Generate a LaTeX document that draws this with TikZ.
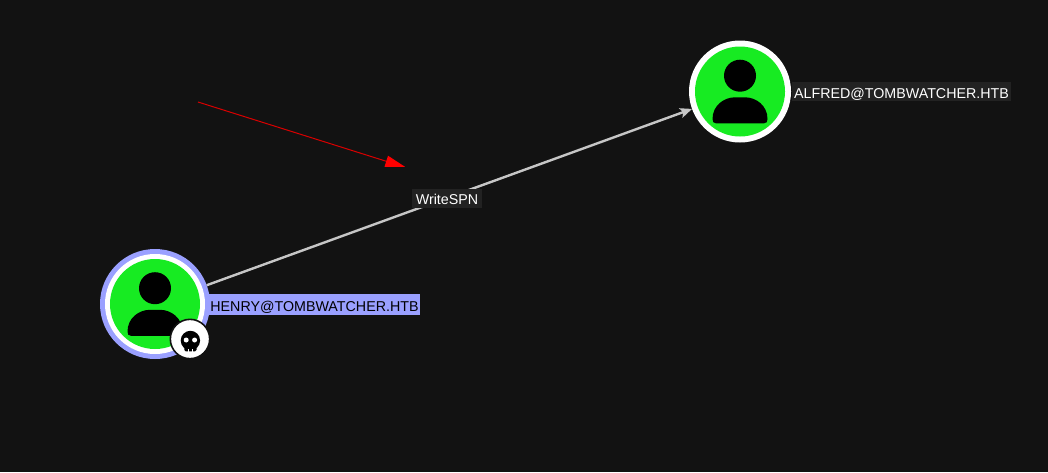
\documentclass[tikz,border=0pt]{standalone}
\usepackage{fontspec}
\setmainfont{Liberation Sans}
\usetikzlibrary{arrows.meta}
\definecolor{bgc}{HTML}{121212}
\definecolor{greenc}{HTML}{17EB22}
\definecolor{peri}{HTML}{9AA0FF}
\definecolor{edgec}{HTML}{C6C6C6}
\definecolor{lblbg}{HTML}{222222}
\tikzset{
  x=0.75pt,y=-0.75pt,
  usernode/.style={circle,inner sep=0pt,outer sep=0pt,minimum size=76.5pt,fill=white},
  lbl/.style={inner sep=0pt,outer sep=0pt,font=\fontsize{10.7pt}{12pt}\selectfont,text=white,fill=lblbg,anchor=center,text depth=0pt},
  edgeline/.style={draw=edgec,line width=1.8pt},
}
\newcommand{\personicon}[2]{%
  \fill[greenc] (#1,#2) circle[radius=45];
  \fill[black] (#1,#2-15.8) circle[radius=16];
  \fill[black]
    ({#1-27.5},{#2+27.5}) .. controls ({#1-27.5},{#2+14}) and ({#1-16},{#2+5.8}) .. ({#1-5},{#2+5.8})
    -- ({#1+5},{#2+5.8}) .. controls ({#1+16},{#2+5.8}) and ({#1+27.5},{#2+14}) .. ({#1+27.5},{#2+27.5})
    .. controls ({#1+27.5},{#2+30.5}) and ({#1+26.5},{#2+31.8}) .. ({#1+24},{#2+31.8})
    -- ({#1-24},{#2+31.8}) .. controls ({#1-26.5},{#2+31.8}) and ({#1-27.5},{#2+30.5}) .. ({#1-27.5},{#2+27.5}) -- cycle;
}
\begin{document}
\begin{tikzpicture}
\useasboundingbox[fill=bgc] (0,0) rectangle (1048,472);
% nodes
\node[usernode] (alfred) at (740,91.5) {};
\node[usernode,minimum size=82.5pt,fill=peri] (henry) at (155,304) {};
\fill[white] (henry.center) circle[radius=50];
\personicon{740}{91.5}
\personicon{155}{304}
% connector
\draw[edgeline,-{Stealth[length=9pt,width=7.5pt,inset=2pt]}] (henry) -- (alfred)
  node[lbl,text height=8.7pt,minimum width=53pt,minimum height=14.5pt] (edgelabel) at (447,198.5) {WriteSPN};
% labels
\node[lbl,fill=peri,text=black,text height=10.5pt,minimum width=158.5pt,minimum height=15.5pt] (henrylabel) at (314.5,304.5) {HENRY@TOMBWATCHER.HTB};
\node[lbl,text height=11.2pt,minimum width=164.5pt,minimum height=14.5pt] (alfredlabel) at (901.5,91.5) {ALFRED@TOMBWATCHER.HTB};
% badge
\node[circle,fill=white,draw=bgc,line width=1.2pt,inner sep=0pt,outer sep=0pt,minimum size=29.5pt] (badge) at (190,339) {};
% skull
\fill[black] (190.4,340.5) circle[radius=9.7];
\fill[black,rounded corners=1pt] (184.3,344) rectangle (196.5,351.3);
\fill[white] (186.2,340) circle[radius=2.5];
\fill[white] (194.6,340) circle[radius=2.5];
\fill[white] (188.2,348.5) rectangle (188.9,351.5);
\fill[white] (192,348.5) rectangle (192.7,351.5);
% red arrow
\coordinate (redstart) at (198,102);
\coordinate (redend) at (387,161.5);
\coordinate (redtip) at (405,166.8);
\draw[draw=red!85!black,line width=0.75pt] (redstart) -- (redend);
\fill[red] (redtip) -- (388,155.7) -- (384.5,166.8) -- cycle;
\end{tikzpicture}
\end{document}
